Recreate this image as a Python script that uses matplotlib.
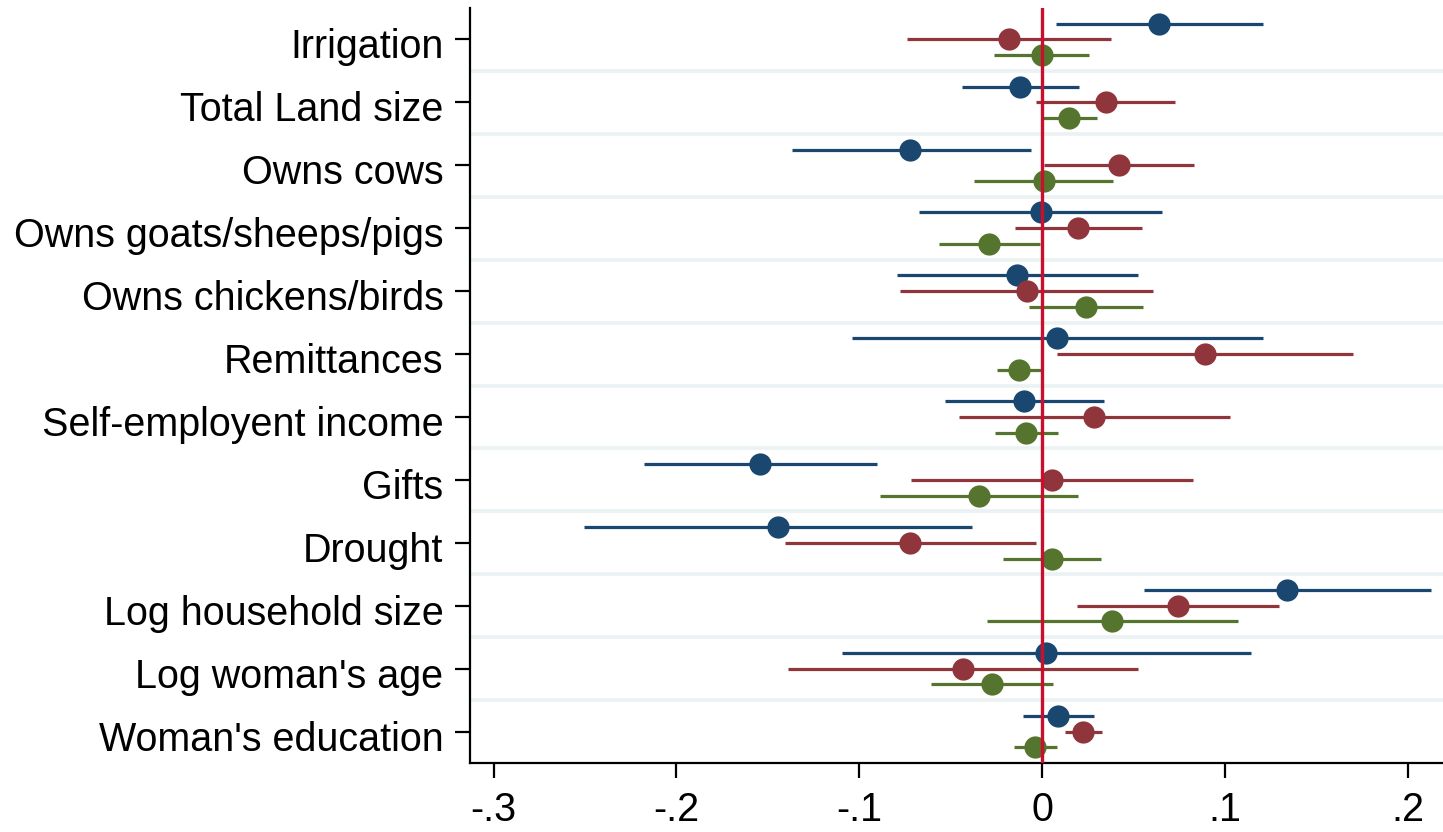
import matplotlib
matplotlib.use("Agg")
import matplotlib.pyplot as plt
from matplotlib.transforms import ScaledTranslation
import numpy as np

plt.rcParams['font.family'] = ['Liberation Sans', 'DejaVu Sans']

categories = ["Irrigation", "Total Land size", "Owns cows", "Owns goats/sheeps/pigs",
              "Owns chickens/birds", "Remittances", "Self-employent income", "Gifts",
              "Drought", "Log household size", "Log woman's age", "Woman's education"]

# series 1 (navy)
b1 = [0.064, -0.012, -0.072, -0.0007, -0.0135, 0.0084, -0.0098, -0.1541, -0.1444, 0.1342, 0.002, 0.0089]
lo1 = [0.0077, -0.044, -0.137, -0.0671, -0.0793, -0.1041, -0.0532, -0.2179, -0.2504, 0.056, -0.1096, -0.0102]
hi1 = [0.121, 0.020, -0.006, 0.0655, 0.0527, 0.1207, 0.0337, -0.0901, -0.0383, 0.2126, 0.1142, 0.0284]

# series 2 (maroon)
b2 = [-0.018, 0.035, 0.042, 0.0199, -0.0084, 0.089, 0.0286, 0.0053, -0.0722, 0.0744, -0.043, 0.0226]
lo2 = [-0.074, -0.003, 0.001, -0.0148, -0.0777, 0.0084, -0.0456, -0.0715, -0.1408, 0.0193, -0.1388, 0.0128]
hi2 = [0.038, 0.073, 0.083, 0.0545, 0.0609, 0.170, 0.1028, 0.0828, -0.0033, 0.1295, 0.0523, 0.033]

# series 3 (forest green)
b3 = [0.0, 0.015, 0.001, -0.0288, 0.0241, -0.0124, -0.0086, -0.0346, 0.0053, 0.0385, -0.0274, -0.0038]
lo3 = [-0.026, 0.0, -0.037, -0.0562, -0.0069, -0.0248, -0.0255, -0.0886, -0.0215, -0.0301, -0.0607, -0.0155]
hi3 = [0.026, 0.030, 0.039, -0.0011, 0.0551, 0.0004, 0.0086, 0.0195, 0.0325, 0.1072, 0.0062, 0.008]

xticks = [-0.3, -0.2, -0.1, 0.0, 0.1, 0.2]
xticklabels = ["-.3", "-.2", "-.1", "0", ".1", ".2"]

colors = ["#1A476F", "#90353B", "#55752F"]
offsets = [-0.25, 0.0, 0.25]

W, H = 1443, 832
fig = plt.figure(figsize=(W / 100, H / 100), dpi=100)
ax = fig.add_axes([470 / W, 1 - 763 / H, 1 - 470 / W, (763 - 8) / H])

n = len(categories)
y = np.arange(n)

# grid lines between categories
for g in np.arange(n - 1) + 0.5:
    ax.axhline(g, color="#EAF2F3", lw=2.6, zorder=1)

series = [(b1, lo1, hi1), (b2, lo2, hi2), (b3, lo3, hi3)]
for (b, lo, hi), c, off in zip(series, colors, offsets):
    yy = y + off
    ax.hlines(yy, lo, hi, color=c, lw=2.3, zorder=2)
    ax.plot(b, yy, 'o', color=c, ms=16, mew=0, zorder=3)

ax.axvline(0, color="#C8102E", lw=2.4, zorder=4)

ax.set_xlim(-0.3129, 0.2194)
ax.set_ylim(n - 0.5, -0.5)
ax.set_yticks(y)
ax.set_yticklabels(categories)
ax.set_xticks(xticks)
ax.set_xticklabels(xticklabels)

for s in ["top", "right"]:
    ax.spines[s].set_visible(False)
for s in ["left", "bottom"]:
    ax.spines[s].set_linewidth(1.6)
ax.tick_params(axis='both', length=11, width=1.6, labelsize=28.45)
ax.tick_params(axis='y', pad=8)
ax.tick_params(axis='x', pad=9)

shift = ScaledTranslation(0, -4 / 100, fig.dpi_scale_trans)
for lab in ax.get_yticklabels():
    lab.set_transform(lab.get_transform() + shift)

fig.savefig("out.png", dpi=100)
